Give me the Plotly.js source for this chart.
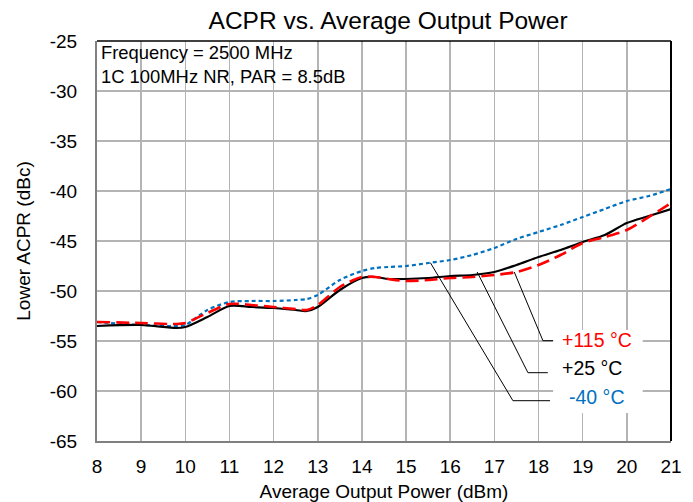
<!DOCTYPE html>
<html><head><meta charset="utf-8">
<script src="https://cdn.plot.ly/plotly-3.0.1.min.js"></script>
<style>html,body{margin:0;padding:0;background:#fff}#chart{width:693px;height:502px}</style>
</head><body><div id="chart"></div>
<script>
// Data
const xPower = [8, 9, 9.8, 10, 10.5, 11, 11.5, 12, 12.5, 12.75, 13, 13.5, 14, 14.3, 14.6, 15, 15.5, 16, 16.5, 17, 17.5, 18, 18.5, 19, 19.5, 20, 20.5, 21];
const acprP25 = [-53.5, -53.4, -53.7, -53.6, -52.6, -51.5, -51.6, -51.7, -51.9, -52.0, -51.6, -49.9, -48.7, -48.6, -48.8, -48.8, -48.7, -48.5, -48.4, -48.1, -47.4, -46.6, -45.9, -45.1, -44.4, -43.2, -42.5, -41.8];
const acprP115 = [-53.1, -53.2, -53.3, -53.2, -52.2, -51.3, -51.4, -51.6, -51.8, -51.9, -51.4, -49.6, -48.6, -48.6, -48.8, -49.0, -48.9, -48.7, -48.6, -48.4, -48.1, -47.4, -46.4, -45.2, -44.6, -43.9, -42.6, -41.2];
const acprM40 = [-53.1, -53.4, -53.5, -53.4, -51.9, -51.1, -51.0, -51.0, -50.9, -50.8, -50.4, -48.9, -48.0, -47.7, -47.6, -47.5, -47.2, -46.9, -46.4, -45.7, -44.8, -44.1, -43.4, -42.6, -41.8, -41.0, -40.5, -39.8];

const seriesNames = ["+115 °C", "+25 °C", "-40 °C"];
const labelX = [19.32, 19.21, 19.32];
const labelY = [-54.9, -57.7, -60.6];
// leader lines: start on curve -> corner -> end near label
const leader115X = [17.45, 18.10, 18.33];
const leader115Y = [-48.1, -54.97, -54.97];
const leader25X = [16.61, 17.76, 18.21];
const leader25Y = [-48.1, -58.17, -58.17];
const leaderM40X = [15.55, 17.42, 18.26];
const leaderM40Y = [-47.17, -60.97, -60.97];

const xTicks = [8,9,10,11,12,13,14,15,16,17,18,19,20,21];
const yTicks = [-65,-60,-55,-50,-45,-40,-35,-30,-25];

const font = "Liberation Sans, Arial, sans-serif";
const colors = ["#ff0000", "#000000", "#0070c0"];

const traces = [
  {x: xPower, y: acprM40, mode: "lines", line: {color: colors[2], width: 2.2, dash: "4px,3px", shape: "spline", smoothing: 0.8}},
  {x: xPower, y: acprP25, mode: "lines", line: {color: colors[1], width: 2.2, shape: "spline", smoothing: 0.8}},
  {x: xPower, y: acprP115, mode: "lines", line: {color: colors[0], width: 2.6, dash: "13px,6px", shape: "spline", smoothing: 0.8}},
  {x: leader115X, y: leader115Y, mode: "lines", line: {color: "#000", width: 1}},
  {x: leader25X, y: leader25Y, mode: "lines", line: {color: "#000", width: 1}},
  {x: leaderM40X, y: leaderM40Y, mode: "lines", line: {color: "#000", width: 1}}
];

const annotations = seriesNames.map((n, i) => ({
  x: labelX[i], y: labelY[i], xref: "x", yref: "y", text: n, showarrow: false,
  font: {family: font, size: 19.5, color: colors[i]}, xanchor: "center", yanchor: "middle"
}));
annotations.push({
  xref: "paper", yref: "paper", x: 0.003, y: 1.002, xanchor: "left", yanchor: "top", align: "left",
  showarrow: false, text: "Frequency = 2500 MHz<br>1C 100MHz NR, PAR = 8.5dB",
  font: {family: font, size: 18.4, color: "#000"}
});

const layout = {
  width: 693, height: 502,
  margin: {l: 97, r: 22, t: 41, b: 61},
  paper_bgcolor: "#fff", plot_bgcolor: "#fff",
  showlegend: false,
  title: {text: "ACPR vs. Average Output Power", font: {family: font, size: 24.5, color: "#000"}, x: 0.56, xanchor: "center", y: 0.96, yanchor: "middle"},
  xaxis: {
    range: [8, 21], tickvals: xTicks, ticktext: xTicks.map(String), ticks: "",
    showgrid: true, gridcolor: "#b4b4b4", gridwidth: 1.5, zeroline: false,
    showline: true, linecolor: "#808080", linewidth: 2,
    tickfont: {family: font, size: 19, color: "#000"}, ticklabelstandoff: 7,
    title: {text: "Average Output Power (dBm)", font: {family: font, size: 19, color: "#000"}, standoff: 9}
  },
  yaxis: {
    range: [-65, -25], tickvals: yTicks, ticktext: yTicks.map(String), ticks: "",
    showgrid: true, gridcolor: "#b4b4b4", gridwidth: 1.5, zeroline: false,
    showline: true, linecolor: "#808080", linewidth: 2,
    tickfont: {family: font, size: 19, color: "#000"}, ticklabelstandoff: 14,
    title: {text: "Lower ACPR (dBc)", font: {family: font, size: 19, color: "#000"}, standoff: 14}
  },
  shapes: [
    {type: "rect", xref: "x", yref: "y", x0: 18.33, x1: 20.36, y0: -62.2, y1: -53.9, fillcolor: "#fff", line: {width: 0}, layer: "between"},
    {type: "line", xref: "paper", yref: "paper", x0: 0, x1: 1, y0: 1, y1: 1, line: {color: "#000", width: 1.5}},
    {type: "line", xref: "paper", yref: "paper", x0: 1, x1: 1, y0: 0, y1: 1, line: {color: "#000", width: 2}}
  ],
  annotations: annotations
};

Plotly.newPlot("chart", traces, layout, {displayModeBar: false, staticPlot: true});
</script>
</body></html>
